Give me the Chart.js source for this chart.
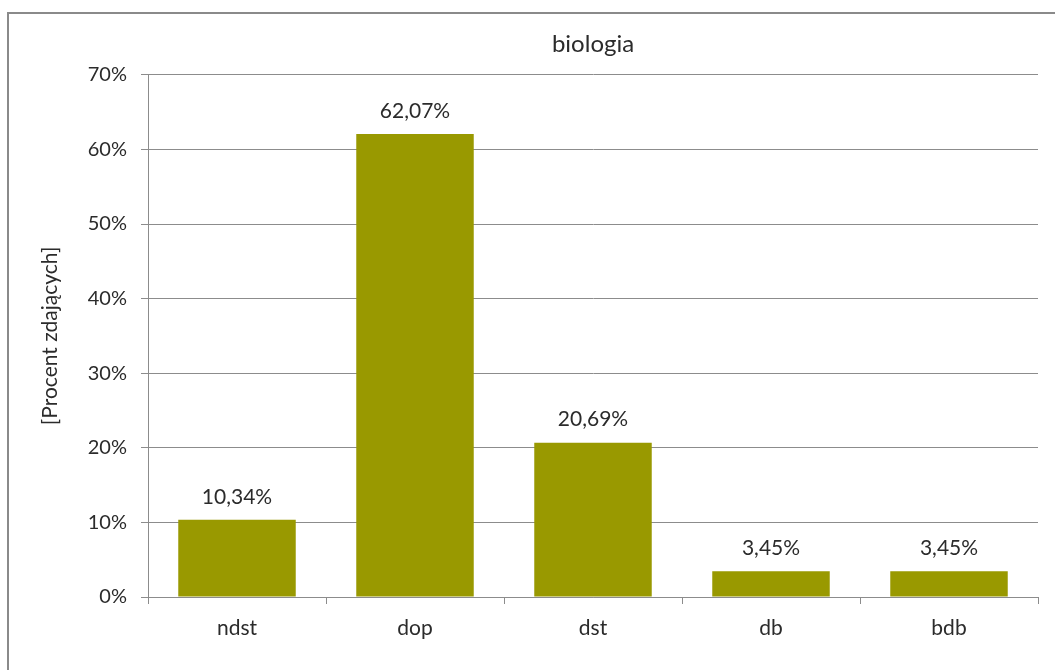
<!DOCTYPE html>
<html>
<head>
<meta charset="utf-8">
<script src="https://cdn.jsdelivr.net/npm/chart.js@4/dist/chart.umd.min.js"></script>
<style>
  html, body { margin: 0; padding: 0; background: #fff; }
  #wrap { position: absolute; left: 0; top: 0; width: 1055px; height: 670px; overflow: hidden; }
  #frame { position: absolute; left: 7px; top: 12px; width: 1100px; height: 700px;
           border-left: 2px solid #8a8a8a; border-top: 2px solid #8a8a8a; box-sizing: border-box; }
  canvas { position: absolute; left: 0; top: 0; }
</style>
</head>
<body>
<div id="wrap">
  <div id="frame"></div>
  <canvas id="c" width="1055" height="670"></canvas>
</div>
<script>
const categories = ['ndst', 'dop', 'dst', 'db', 'bdb'];
const values = [10.34, 62.07, 20.69, 3.45, 3.45];
const yTicks = [0, 10, 20, 30, 40, 50, 60, 70];
const chartTitle = 'biologia';
const yTitle = '[Procent zdających]';

const FONT = 'Lato, "Open Sans", sans-serif';
const TXT = '#2b2b2b';

const valueLabels = {
  id: 'valueLabels',
  afterDatasetsDraw(chart) {
    const ctx = chart.ctx;
    const meta = chart.getDatasetMeta(0);
    ctx.save();
    ctx.font = '21px ' + FONT;
    ctx.fillStyle = TXT;
    ctx.textAlign = 'center';
    ctx.textBaseline = 'middle';
    meta.data.forEach((bar, i) => {
      const txt = values[i].toFixed(2).replace('.', ',') + '%';
      ctx.fillText(txt, bar.x, bar.y - 23);
    });
    ctx.restore();
  }
};

new Chart(document.getElementById('c'), {
  type: 'bar',
  data: {
    labels: categories,
    datasets: [{
      data: values,
      backgroundColor: '#999900',
      borderWidth: 0,
      barPercentage: 0.66,
      categoryPercentage: 1.0
    }]
  },
  options: {
    responsive: false,
    animation: false,
    devicePixelRatio: 1,
    layout: { padding: { left: 0, right: 17, top: 0, bottom: 0 } },
    plugins: {
      legend: { display: false },
      tooltip: { enabled: false },
      title: {
        display: true,
        fullSize: false,
        text: chartTitle,
        color: TXT,
        font: { family: FONT, size: 24, weight: 'normal' },
        padding: { top: 30, bottom: 16 }
      }
    },
    scales: {
      x: {
        grid: { offset: true, drawOnChartArea: false, drawTicks: true, tickLength: 7, color: '#8c8c8c' },
        border: { color: '#8c8c8c', width: 1 },
        ticks: { color: TXT, font: { family: FONT, size: 21 }, padding: 12 },
        afterFit(scale) { scale.height = 73; }
      },
      y: {
        min: 0, max: 70,
        afterBuildTicks(scale) { scale.ticks = yTicks.map(v => ({ value: v })); },
        grid: { color: '#8c8c8c', tickLength: 7, drawTicks: true },
        border: { color: '#8c8c8c', width: 1 },
        ticks: {
          color: TXT,
          font: { family: FONT, size: 20 },
          padding: 14,
          callback: v => v + '%'
        },
        title: {
          display: true,
          text: yTitle,
          color: TXT,
          font: { family: FONT, size: 21 },
          padding: { top: 38, bottom: 0 }
        },
        afterFit(scale) { scale.width = 148; }
      }
    }
  },
  plugins: [valueLabels]
});
</script>
</body>
</html>
